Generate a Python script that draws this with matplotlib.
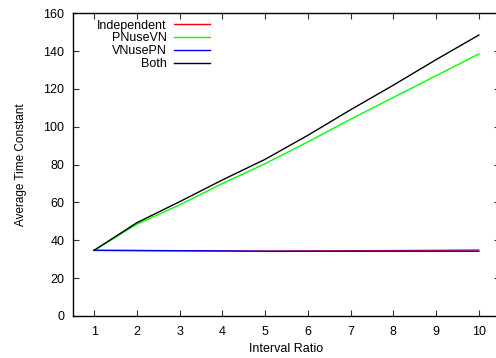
import matplotlib
matplotlib.use("Agg")
import matplotlib.pyplot as plt

plt.rcParams['font.family'] = ['Liberation Sans', 'DejaVu Sans']

x = [1, 2, 3, 4, 5, 6, 7, 8, 9, 10]
independent = [34.7, 34.6, 34.5, 34.4, 34.3, 34.4, 34.5, 34.6, 34.7, 34.9]
pnusevn = [34.7, 48.5, 58.7, 70.0, 80.5, 92.0, 104.0, 115.5, 127.0, 138.5]
vnusepn = [34.7, 34.6, 34.5, 34.4, 34.2, 34.2, 34.2, 34.2, 34.2, 34.2]
both = [34.7, 49.3, 60.4, 71.9, 82.8, 95.5, 109.0, 122.0, 135.5, 148.5]

fig = plt.figure(figsize=(4.96, 3.58), dpi=100)
ax = fig.add_axes([72.7/496, 1 - 316/358, 427.5/496, (316-13.3)/358])

ax.plot(x, independent, color='#ff0000', lw=1, label='Independent')
ax.plot(x, pnusevn, color='#00ff00', lw=1, label='PNuseVN')
ax.plot(x, vnusepn, color='#0000ff', lw=1, label='VNusePN')
ax.plot(x, both, color='#000000', lw=1, label='Both')

ax.set_xlim(0.5, 10.5)
ax.set_ylim(0, 160)
ax.set_xticks(x)
ax.set_yticks(range(0, 161, 20))
ax.tick_params(axis='both', direction='in', length=4, width=0.8, top=True, right=True,
               labelsize=9, colors='#333333', labelcolor='black')
ax.tick_params(axis='x', pad=7)
ax.tick_params(axis='y', pad=6)
for s in ax.spines.values():
    s.set_linewidth(1)
ax.set_xlabel('Interval Ratio', fontsize=9, labelpad=4)
ax.set_ylabel('Average Time Constant', fontsize=8.5, labelpad=12)

leg = ax.legend(loc='upper left', bbox_to_anchor=(0.042, 1.0), frameon=False,
                markerfirst=False, fontsize=9, handlelength=2.9,
                handletextpad=0.6, labelspacing=0.07, borderaxespad=0.1)
for t in leg.get_texts():
    t.set_ha('right')
leg._legend_box.align = 'right'

fig.savefig('out.png', dpi=100)
